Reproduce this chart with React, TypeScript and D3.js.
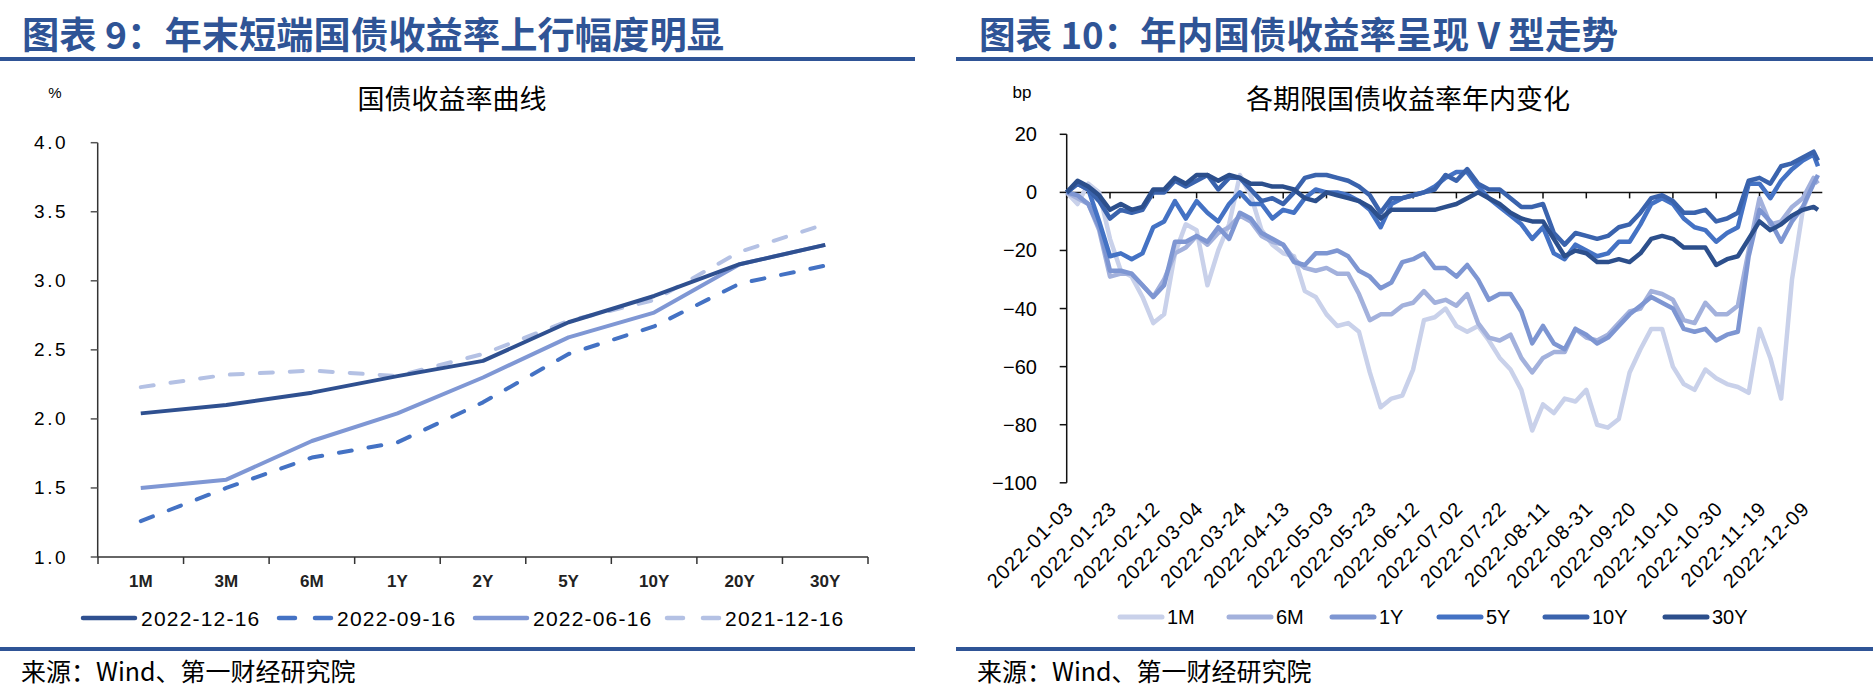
import React from 'react';
import * as d3 from 'd3';

const W = 1873;
const H = 698;

// ---------- Left chart data ----------
const tenors = ['1M', '3M', '6M', '1Y', '2Y', '5Y', '10Y', '20Y', '30Y'];
const curveNames = ['2022-12-16', '2022-09-16', '2022-06-16', '2021-12-16'];
const curve20221216 = [2.04, 2.10, 2.19, 2.31, 2.42, 2.70, 2.89, 3.12, 3.26];
const curve20220916 = [1.26, 1.50, 1.72, 1.83, 2.12, 2.47, 2.67, 2.98, 3.11];
const curve20220616 = [1.50, 1.56, 1.84, 2.04, 2.30, 2.59, 2.77, 3.12, 3.26];
const curve20211216 = [2.23, 2.32, 2.35, 2.31, 2.47, 2.71, 2.86, 3.21, 3.41];
const leftYTicks = [1.0, 1.5, 2.0, 2.5, 3.0, 3.5, 4.0];

// ---------- Right chart data ----------
const tickDates = [
  '2022-01-03', '2022-01-23', '2022-02-12', '2022-03-04', '2022-03-24', '2022-04-13',
  '2022-05-03', '2022-05-23', '2022-06-12', '2022-07-02', '2022-07-22', '2022-08-11',
  '2022-08-31', '2022-09-20', '2022-10-10', '2022-10-30', '2022-11-19', '2022-12-09',
];
const rightYTicks = [-100, -80, -60, -40, -20, 0, 20];
const sampleDates = [
  '2022-01-03', '2022-01-08', '2022-01-13', '2022-01-18', '2022-01-23', '2022-01-28', '2022-02-02', '2022-02-07', '2022-02-12', '2022-02-17',
  '2022-02-22', '2022-02-27', '2022-03-04', '2022-03-09', '2022-03-14', '2022-03-19', '2022-03-24', '2022-03-29', '2022-04-03', '2022-04-08',
  '2022-04-13', '2022-04-18', '2022-04-23', '2022-04-28', '2022-05-03', '2022-05-08', '2022-05-13', '2022-05-18', '2022-05-23', '2022-05-28',
  '2022-06-02', '2022-06-07', '2022-06-12', '2022-06-17', '2022-06-22', '2022-06-27', '2022-07-02', '2022-07-07', '2022-07-12', '2022-07-17',
  '2022-07-22', '2022-07-27', '2022-08-01', '2022-08-06', '2022-08-11', '2022-08-16', '2022-08-21', '2022-08-26', '2022-08-31', '2022-09-05',
  '2022-09-10', '2022-09-15', '2022-09-20', '2022-09-25', '2022-09-30', '2022-10-05', '2022-10-10', '2022-10-15', '2022-10-20', '2022-10-25',
  '2022-10-30', '2022-11-04', '2022-11-09', '2022-11-14', '2022-11-19', '2022-11-24', '2022-11-29', '2022-12-04', '2022-12-09', '2022-12-14',
  '2022-12-16',
];
const bp1M = [
  0, -4, 3, 0, -16, -27, -29, -36, -45, -42,
  -21, -11, -13, -32, -20, -11, 6, -1, -13, -18,
  -21, -22, -34, -36, -42, -46, -45, -48, -62, -74,
  -71, -70, -61, -44, -43, -40, -46, -48, -46, -51,
  -57, -61, -68, -82, -73, -76, -71, -72, -68, -80,
  -81, -78, -62, -54, -47, -47, -60, -66, -68, -61,
  -64, -66, -67, -69, -47, -57, -71, -30, -6, 4,
  4,
];
const bp6M = [
  0, -2, -4, -13, -29, -28, -28, -32, -36, -30,
  -21, -19, -15, -18, -14, -12, -8, -10, -15, -17,
  -18, -23, -26, -27, -26, -28, -28, -35, -44, -42,
  -42, -39, -38, -34, -38, -37, -39, -35, -45, -50,
  -51, -49, -57, -62, -57, -55, -55, -47, -50, -51,
  -49, -45, -41, -40, -34, -35, -37, -44, -45, -38,
  -42, -42, -39, -20, -2, -11, -10, -5, -2, 5,
  3,
];
const bp1Y = [
  0, -1, -4, -12, -27, -27, -28, -32, -36, -32,
  -17, -17, -15, -17, -12, -16, -7, -9, -14, -16,
  -18, -24, -25, -21, -21, -20, -22, -27, -29, -33,
  -31, -24, -23, -21, -26, -26, -29, -25, -30, -37,
  -35, -35, -41, -52, -46, -52, -54, -47, -49, -52,
  -50, -46, -42, -39, -36, -38, -40, -47, -48, -47,
  -51, -49, -48, -22, -6, -10, -17, -10, -5, 3,
  6,
];
const bp5Y = [
  0, 3, 1, -10, -22, -21, -23, -21, -12, -10,
  -3, -9, -3, -7, -10, -4, 0, -4, -4, -9,
  -6, -7, -2, 1, 0, 0, -1, -3, -6, -12,
  -4, -2, -1, 0, 2, 5, 7, 7, 2, -2,
  -5, -8, -11, -16, -12, -21, -23, -18, -20, -22,
  -21, -17, -17, -11, -4, -2, -4, -9, -12, -13,
  -17, -14, -12, 3, 3, -2, 4, 8, 11, 13,
  9,
];
const bp10Y = [
  0, 3, 1, -3, -9, -6, -7, -6, 0, 0,
  4, 2, 4, 6, 1, 5, 5, 1, -3, -2,
  -4, 0, 5, 6, 6, 5, 4, 2, -1, -7,
  -2, -2, -1, 0, 1, 6, 4, 8, 3, 1,
  1, -2, -5, -5, -4, -14, -18, -14, -15, -16,
  -15, -12, -11, -7, -2, -1, -3, -7, -7, -6,
  -10, -9, -7, 4, 5, 3, 9, 10, 12, 14,
  11,
];
const bp30Y = [
  0, 4, 2, -1, -6, -4, -6, -5, 1, 1,
  5, 3, 6, 6, 4, 6, 5, 3, 3, 2,
  2, 1, -2, -3, 0, -1, -2, -3, -5, -9,
  -6, -6, -6, -6, -6, -5, -4, -2, 0, -2,
  -4, -7, -9, -10, -10, -16, -22, -20, -21, -24,
  -24, -23, -24, -21, -16, -15, -16, -19, -19, -19,
  -25, -23, -22, -16, -10, -13, -11, -8, -6, -5,
  -6,
];
const rightNames = ['1M', '6M', '1Y', '5Y', '10Y', '30Y'];

const NAVY = '#2f5496';
const CJK = "'Noto Sans CJK SC', 'Noto Sans', sans-serif";
const LAT = "'Liberation Sans', Arial, sans-serif";

export default function App() {
  React.useEffect(() => {
    document.body.style.margin = '0';
  }, []);

  // ---- left scales ----
  const xL = d3.scaleBand<string>().domain(tenors).range([98, 868]);
  const yL = d3.scaleLinear().domain([1, 4]).range([557, 142.7]);
  const cx = (t: string) => (xL(t) as number) + xL.bandwidth() / 2;
  const lineL = d3
    .line<number>()
    .x((_, i) => cx(tenors[i]))
    .y((d) => yL(d));
  const leftSeries = [
    { name: curveNames[3], vals: curve20211216, color: '#b4c1e4', dash: '13 17' },
    { name: curveNames[2], vals: curve20220616, color: '#7f97d4', dash: '' },
    { name: curveNames[1], vals: curve20220916, color: '#4472c4', dash: '13 17' },
    { name: curveNames[0], vals: curve20221216, color: '#2f5090', dash: '' },
  ];
  const leftLegend = [
    { s: leftSeries[3], lx: 81, tx: 141 },
    { s: leftSeries[2], lx: 277, tx: 337 },
    { s: leftSeries[1], lx: 473, tx: 533 },
    { s: leftSeries[0], lx: 665, tx: 725 },
  ];

  // ---- right scales ----
  const parse = d3.timeParse('%Y-%m-%d');
  const xR = d3
    .scaleTime()
    .domain([parse('2022-01-03') as Date, parse('2022-12-18') as Date])
    .range([1066.7, 1822.3]);
  const yR = d3.scaleLinear().domain([-100, 20]).range([482.8, 134.3]);
  const dates = sampleDates.map((d) => parse(d) as Date);
  const lineR = d3
    .line<number>()
    .x((_, i) => xR(dates[i]))
    .y((d) => yR(d));
  const rightSeries = [
    { name: rightNames[0], vals: bp1M, color: '#c9d1ea' },
    { name: rightNames[1], vals: bp6M, color: '#a3b1dc' },
    { name: rightNames[2], vals: bp1Y, color: '#7e96d2' },
    { name: rightNames[3], vals: bp5Y, color: '#4472c4' },
    { name: rightNames[4], vals: bp10Y, color: '#3a63ad' },
    { name: rightNames[5], vals: bp30Y, color: '#2c4f8c' },
  ];
  const rightLegendX = [1118, 1227, 1330, 1437, 1543, 1663];

  return (
    <svg
      width={W}
      height={H}
      style={{ position: 'absolute', left: 0, top: 0, display: 'block' }}
      fontFamily={LAT}
    >
      <rect width={W} height={H} fill="#fff" />

      {/* titles */}
      <text x={22} y={33} fontFamily={CJK} fontWeight="bold" fontSize={37} fill={NAVY}
        dominantBaseline="central" textLength={702} lengthAdjust="spacingAndGlyphs">
        图表 9：年末短端国债收益率上行幅度明显
      </text>
      <text x={979} y={33} fontFamily={CJK} fontWeight="bold" fontSize={37} fill={NAVY}
        dominantBaseline="central" textLength={639} lengthAdjust="spacingAndGlyphs">
        图表 10：年内国债收益率呈现 V 型走势
      </text>
      <rect x={0} y={57} width={915} height={4} fill={NAVY} />
      <rect x={956} y={57} width={W - 956} height={4} fill={NAVY} />

      {/* ================= LEFT CHART ================= */}
      <text x={55} y={92} fontSize={15} textAnchor="middle" dominantBaseline="central">%</text>
      <text x={452} y={97} fontFamily={CJK} fontSize={27} textAnchor="middle" dominantBaseline="central">
        国债收益率曲线
      </text>
      {/* y axis */}
      <line x1={97.7} x2={97.7} y1={yL(4)} y2={yL(1)} stroke="#333" strokeWidth={1.5} />
      {leftYTicks.map((t) => (
        <g key={t}>
          <line x1={90.7} x2={97.7} y1={yL(t)} y2={yL(t)} stroke="#555" strokeWidth={1.5} />
          <text x={68} y={yL(t)} fontSize={19} textAnchor="end" dominantBaseline="central" letterSpacing={2.5}>
            {t.toFixed(1)}
          </text>
        </g>
      ))}
      {/* x axis */}
      <line x1={97.7} x2={868} y1={yL(1)} y2={yL(1)} stroke="#333" strokeWidth={1.5} />
      {tenors.concat(['end']).map((t, i) => {
        const x = 98 + i * xL.step();
        return <line key={t} x1={x} x2={x} y1={yL(1)} y2={yL(1) + 7} stroke="#333" strokeWidth={1.5} />;
      })}
      {tenors.map((t) => (
        <text key={t} x={cx(t)} y={581} fontSize={17} fontWeight="bold" fill="#222" textAnchor="middle" dominantBaseline="central">
          {t}
        </text>
      ))}
      {leftSeries.map((s) => (
        <path key={s.name} d={lineL(s.vals) as string} fill="none" stroke={s.color} strokeWidth={4}
          strokeDasharray={s.dash || undefined} strokeLinecap={s.dash ? 'round' : 'butt'} strokeLinejoin="round" />
      ))}
      {leftLegend.map(({ s, lx, tx }) => (
        <g key={s.name}>
          <line x1={lx + 2} x2={lx + 54} y1={618} y2={618} stroke={s.color} strokeWidth={4.5}
            strokeDasharray={s.dash ? '16 20' : undefined} strokeLinecap="round" />
          <text x={tx} y={618} fontSize={21} dominantBaseline="central" letterSpacing={1.2}>
            {s.name}
          </text>
        </g>
      ))}

      {/* ================= RIGHT CHART ================= */}
      <text x={1022} y={92} fontSize={17} textAnchor="middle" dominantBaseline="central">bp</text>
      <text x={1408} y={97} fontFamily={CJK} fontSize={27} textAnchor="middle" dominantBaseline="central">
        各期限国债收益率年内变化
      </text>
      <line x1={1066.7} x2={1066.7} y1={yR(20)} y2={yR(-100)} stroke="#111" strokeWidth={1.5} />
      {rightYTicks.map((t) => (
        <g key={t}>
          <line x1={1059.7} x2={1066.7} y1={yR(t)} y2={yR(t)} stroke="#111" strokeWidth={1.5} />
          <text x={1037} y={yR(t)} fontSize={20} textAnchor="end" dominantBaseline="central">
            {d3.format('d')(t)}
          </text>
        </g>
      ))}
      <line x1={1066.7} x2={1822.3} y1={yR(0)} y2={yR(0)} stroke="#111" strokeWidth={1.5} />
      {tickDates.map((d) => {
        const x = xR(parse(d) as Date);
        return (
          <g key={d}>
            <line x1={x} x2={x} y1={yR(0)} y2={yR(0) + 6} stroke="#111" strokeWidth={1.5} />
            <text transform={`translate(${x + 3},${505}) rotate(-45)`} fontSize={20} textAnchor="end"
              dominantBaseline="central" letterSpacing={1}>
              {d}
            </text>
          </g>
        );
      })}
      {rightSeries.map((s) => (
        <path key={s.name} d={lineR(s.vals) as string} fill="none" stroke={s.color} strokeWidth={4.5}
          strokeLinejoin="round" />
      ))}
      {rightSeries.map((s, i) => (
        <g key={s.name}>
          <line x1={rightLegendX[i] + 2} x2={rightLegendX[i] + 44} y1={617} y2={617} stroke={s.color}
            strokeWidth={5} strokeLinecap="round" />
          <text x={rightLegendX[i] + 49} y={617} fontSize={20} dominantBaseline="central">
            {s.name}
          </text>
        </g>
      ))}

      {/* sources */}
      <rect x={0} y={647} width={915} height={4} fill={NAVY} />
      <rect x={956} y={647} width={W - 956} height={4} fill={NAVY} />
      <text x={21} y={670} fontFamily={CJK} fontSize={25} dominantBaseline="central">来源：Wind、第一财经研究院</text>
      <text x={977} y={670} fontFamily={CJK} fontSize={25} dominantBaseline="central">来源：Wind、第一财经研究院</text>
    </svg>
  );
}
